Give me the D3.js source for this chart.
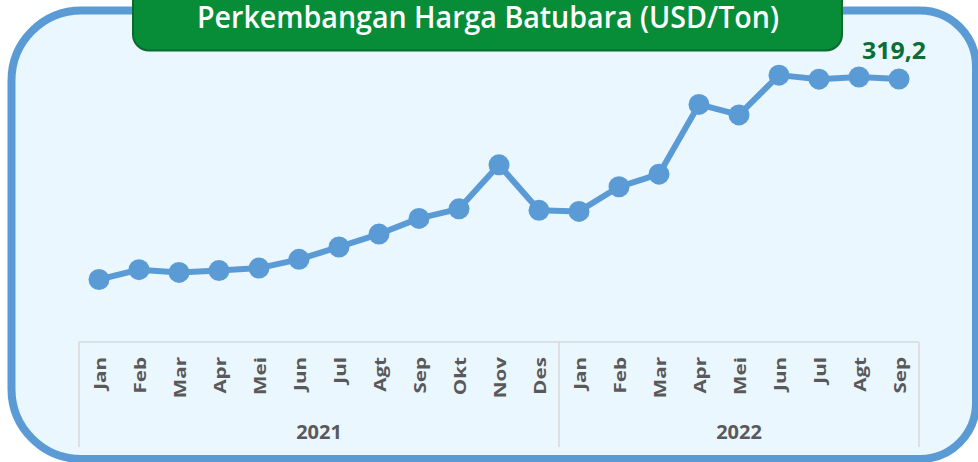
<!DOCTYPE html>
<html>
<head>
<meta charset="utf-8">
<script src="https://cdn.jsdelivr.net/npm/d3@7"></script>
<style>
  html, body { margin: 0; padding: 0; background: #ffffff; }
  svg { display: block; }
</style>
</head>
<body>
<svg id="chart" width="978" height="462"></svg>
<script>
// ---- data ----
const title = "Perkembangan Harga Batubara (USD/Ton)";
const months = ["Jan","Feb","Mar","Apr","Mei","Jun","Jul","Agt","Sep","Okt","Nov","Des",
                "Jan","Feb","Mar","Apr","Mei","Jun","Jul","Agt","Sep"];
const yearLabels = ["2021", "2022"];
const yearCounts = [12, 9];
const prices = [75.84, 87.79, 84.49, 86.68, 89.74, 100.33, 115.35, 130.99, 150.03, 161.63, 215.01, 159.79,
                158.50, 188.38, 203.69, 288.40, 275.64, 323.91, 319.00, 321.59, 319.22];

// build keys (year-month) from the arrays
const years = [];
yearLabels.forEach((y, i) => { for (let k = 0; k < yearCounts[i]; k++) years.push(y); });
const keys = months.map((m, i) => years[i] + "-" + m);
const points = keys.map((k, i) => ({ key: k, month: months[i], year: years[i], value: prices[i] }));

const svg = d3.select("#chart");

// ---- frame ----
const fx0 = 11.5, fy0 = 10.5, fx1 = 976, fy1 = 459;
const rl = 70, rr = 56;
const framePath = d3.path();
framePath.moveTo(fx0 + rl, fy0);
framePath.lineTo(fx1 - rr, fy0);
framePath.arcTo(fx1, fy0, fx1, fy0 + rr, rr);
framePath.lineTo(fx1, fy1 - rr);
framePath.arcTo(fx1, fy1, fx1 - rr, fy1, rr);
framePath.lineTo(fx0 + rl, fy1);
framePath.arcTo(fx0, fy1, fx0, fy1 - rl, rl);
framePath.lineTo(fx0, fy0 + rl);
framePath.arcTo(fx0, fy0, fx0 + rl, fy0, rl);
framePath.closePath();
svg.append("path")
  .attr("d", framePath.toString())
  .attr("fill", "#EBF7FE")
  .attr("stroke", "#5B9BD5")
  .attr("stroke-width", 8);

// ---- scales ----
const x = d3.scaleBand().domain(keys).range([79, 919]).padding(0);
const y = d3.scaleLinear().domain([0, 350]).range([342, 342 - 350 * 0.8239]);
const cx = k => x(k) + x.bandwidth() / 2;

// ---- category axis box ----
const axisG = svg.append("g").attr("stroke", "#D9D9D9").attr("stroke-width", 1.5).attr("fill", "none");
axisG.append("line").attr("x1", x.range()[0]).attr("x2", x.range()[1]).attr("y1", y(0)).attr("y2", y(0));
const bounds = [0];
yearCounts.reduce((acc, c) => { bounds.push(acc + c); return acc + c; }, 0);
bounds.forEach(b => {
  const bx = b < keys.length ? x(keys[b]) : x.range()[1];
  axisG.append("line").attr("x1", bx).attr("x2", bx).attr("y1", y(0)).attr("y2", 447);
});

// month labels (rotated)
svg.append("g").selectAll("text")
  .data(points)
  .join("text")
  .attr("transform", d => `translate(${cx(d.key) + 6.5},${y(0) + 15}) scale(1,1.25) rotate(-90)`)
  .attr("text-anchor", "end")
  .attr("font-family", "'Open Sans', sans-serif")
  .attr("font-weight", "bold")
  .attr("font-size", 16.5)
  .attr("fill", "#595959")
  .text(d => d.month);

// year labels
svg.append("g").selectAll("text")
  .data(yearLabels)
  .join("text")
  .attr("x", (d, i) => {
    const a = x(keys[bounds[i]]);
    const b = bounds[i + 1] < keys.length ? x(keys[bounds[i + 1]]) : x.range()[1];
    return (a + b) / 2;
  })
  .attr("y", 439)
  .attr("text-anchor", "middle")
  .attr("font-family", "'Open Sans', sans-serif")
  .attr("font-weight", "bold")
  .attr("font-size", 20)
  .attr("fill", "#595959")
  .text(d => d);

// ---- line ----
const line = d3.line().x(d => cx(d.key)).y(d => y(d.value));
svg.append("path")
  .datum(points)
  .attr("d", line)
  .attr("fill", "none")
  .attr("stroke", "#5B9BD5")
  .attr("stroke-width", 6)
  .attr("stroke-linejoin", "round");

svg.append("g").selectAll("circle")
  .data(points)
  .join("circle")
  .attr("cx", d => cx(d.key))
  .attr("cy", d => y(d.value))
  .attr("r", 10.5)
  .attr("fill", "#5B9BD5");

// last value label
const last = points[points.length - 1];
svg.append("text")
  .attr("x", cx(last.key) - 5)
  .attr("y", y(last.value) - 20)
  .attr("text-anchor", "middle")
  .attr("font-family", "'Open Sans', sans-serif")
  .attr("font-weight", "bold")
  .attr("font-size", 24)
  .attr("fill", "#0A6E36")
  .attr("textLength", 64)
  .attr("lengthAdjust", "spacingAndGlyphs")
  .text(d3.format(".1f")(last.value).replace(".", ","));

// ---- title box ----
svg.append("rect")
  .attr("x", 133).attr("y", -20)
  .attr("width", 709).attr("height", 70.5)
  .attr("rx", 16).attr("ry", 16)
  .attr("fill", "#078C38")
  .attr("stroke", "#0B6B2E")
  .attr("stroke-width", 2);

svg.append("text")
  .attr("x", 488)
  .attr("y", 28)
  .attr("text-anchor", "middle")
  .attr("font-family", "'Open Sans', sans-serif")
  .attr("font-weight", 600)
  .attr("font-size", 31)
  .attr("fill", "#ffffff")
  .attr("textLength", 582)
  .attr("lengthAdjust", "spacingAndGlyphs")
  .text(title);
</script>
</body>
</html>
